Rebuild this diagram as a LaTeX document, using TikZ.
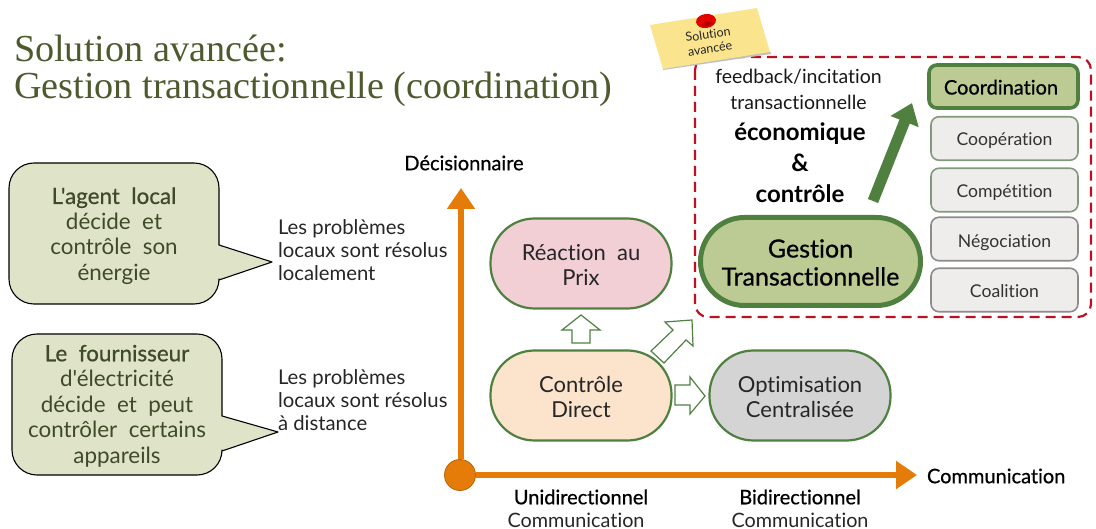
\documentclass[tikz,border=0pt]{standalone}
\usepackage{fontspec}
\setmainfont{Lato}[Ligatures={TeXOff,CommonOff}]
\newfontfamily\titlefont{Liberation Serif}
\newcommand{\fakeb}{\addfontfeature{FakeBold=0.7}}
\usetikzlibrary{arrows.meta,calc}
\definecolor{gborder}{HTML}{4F8040}
\definecolor{gfill}{HTML}{BCCB93}
\definecolor{cfill}{HTML}{DFE4C8}
\definecolor{ctext}{HTML}{3F4A28}
\definecolor{titlec}{HTML}{4E5A2E}
\definecolor{axis}{HTML}{E57C0A}
\definecolor{redd}{HTML}{C00F20}
\definecolor{lgrey}{HTML}{EEEDEB}
\definecolor{pinkf}{HTML}{F2CED5}
\definecolor{peach}{HTML}{FBE3CC}
\definecolor{note}{HTML}{FBE48E}
\tikzset{
 x=1pt,y=-1pt,
 every node/.style={inner sep=0pt,outer sep=0pt,align=center},
 pill/.style={draw=gborder,line width=2.2pt,rounded corners=44pt,minimum width=181pt,minimum height=90pt},
 pilltext/.style={font=\fontsize{22}{25}\selectfont,text=black!85},
 listbox/.style={rounded corners=8pt,line width=1.6pt,fill=lgrey,minimum width=147pt,minimum height=43.5pt,font=\fontsize{17.6}{20}\selectfont,text=black!80,text height=14pt,text depth=0pt},
 callout/.style={draw=black,line width=1.1pt,fill=cfill,line join=round},
 calltext/.style={text=ctext,font=\fontsize{22.4}{25.5}\selectfont},
 lab/.style={anchor=west,align=left,font=\fontsize{20.3}{23}\selectfont,text=black!85},
 axlab/.style={font=\fontsize{20}{23}\selectfont\fakeb,text=black},
 axsub/.style={font=\fontsize{19.8}{22}\selectfont,text=black!85},
 hollow/.style={draw=gborder,fill=white,line width=1.2pt,line join=miter},
 axisline/.style={draw=axis,line width=6pt},
}
\begin{document}
\begin{tikzpicture}
\useasboundingbox (0,0) rectangle (1096,529);
% title
\node[anchor=west,align=left,text=titlec,font=\titlefont\fontsize{38.2}{36.5}\selectfont] (title) at (14,71) {Solution avancée:\\Gestion transactionnelle (coordination)};
% dashed box
\draw[redd,line width=2.2pt,dash pattern=on 10pt off 6pt,rounded corners=13pt] (695,57) rectangle (1091,317);
% sticky note
\fill[black!25] (663,70) -- (771,54) -- (770,51) -- (663,68) -- cycle;
\fill[note] (650,25) -- (757,8) -- (770,52) -- (663,69) -- cycle;
\node[rotate=8,font=\fontsize{12.5}{14.5}\selectfont,text=black!85] (notetext) at (709,41.5) {Solution\\avancée};
\fill[red!90!black,rotate around={8:(706,21)}] (706,21) ellipse (10pt and 7pt);
\fill[red!70!black,rotate around={8:(707,24)}] (707,24) ellipse (6pt and 2pt);
% callouts
\draw[callout] (34,163) -- (194,163) arc[start angle=-90,end angle=0,radius=25] -- (219,245) -- (272,262) -- (219,280) -- (219,279) arc[start angle=0,end angle=90,radius=25] -- (34,304) arc[start angle=90,end angle=180,radius=25] -- (9,188) arc[start angle=180,end angle=270,radius=25] -- cycle;
\node[calltext] (c1) at (114,236) {{\fakeb L'agent\ \ local}\\décide\ \ et\\contrôle\ \ son\\énergie};
\draw[callout] (37,334) -- (197,334) arc[start angle=-90,end angle=0,radius=25] -- (222,416) -- (278,432) -- (222,451) -- (222,450) arc[start angle=0,end angle=90,radius=25] -- (37,475) arc[start angle=90,end angle=180,radius=25] -- (12,359) arc[start angle=180,end angle=270,radius=25] -- cycle;
\node[calltext] (c2) at (117,406) {{\fakeb Le\ \ fournisseur}\\d'électricité\\décide\ \ et\ \ peut\\contrôler\ \ certains\\appareils};
\node[lab] (l1) at (278,250) {Les problèmes\\locaux sont résolus\\localement};
\node[lab] (l2) at (278,400) {Les problèmes\\locaux sont résolus\\à distance};
% axes
\coordinate (ytip) at (461,188);
\coordinate (xtip) at (917,475);
\node[circle,draw=axis!80!black,fill=axis,line width=.8pt,minimum size=31pt] (orig) at (460,475) {};
\draw[axisline,-{Triangle[length=21pt,width=27pt]}] (orig.north -| ytip) -- (ytip);
\draw[axisline,-{Triangle[length=21pt,width=27pt]}] (orig.east) -- (xtip);
\node[axlab] (dec) at (464,163) {Décisionnaire};
\node[axlab,anchor=west] (com) at (927,476) {Communication};
\node[axlab] (uni) at (581,497) {Unidirectionnel};
\node[axsub,anchor=base] (c3) at (576,527) {Communication};
\node[axlab] (bi) at (800,497) {Bidirectionnel};
\node[axsub,anchor=base] (c4) at (800,527) {Communication};
% pills
\node[pill,fill=pinkf] (rea) at (581,263.5) {};
\node[pilltext] (reat) at (581,264.5) {Réaction\ \ au\\Prix};
\node[pill,fill=peach] (ctl) at (581,395.5) {};
\node[pilltext] (ctlt) at (581,397) {Contrôle\\Direct};
\node[pill,fill=black!17] (opt) at (800,395.5) {};
\node[pilltext] (optt) at (800,397) {Optimisation\\Centralisée};
\node[pill,fill=gfill,line width=5pt,minimum width=220pt,minimum height=88pt] (ges) at (810.5,261.5) {};
\node[font=\fontsize{25}{28}\selectfont\fakeb,text=black] (gest) at (810.5,262.5) {Gestion\\Transactionnelle};
% list
\node[listbox,draw=gborder,fill=gfill,line width=3.6pt,minimum width=149pt,minimum height=43pt,font=\fontsize{20}{22}\selectfont\fakeb,text=black,text height=16pt] (coo) at (1003.5,86.5) {\kern-5pt Coordination};
\node[listbox,draw=gborder!60!gray!80] (coop) at (1004.5,138.5) {Coopération};
\node[listbox,draw=gborder!60!gray!80,text height=16pt] (comp) at (1004.5,190) {Compétition};
\node[listbox,draw=black!45,text height=18pt] (neg) at (1004.5,239) {Négociation};
\node[listbox,draw=black!45,text height=15pt] (coal) at (1004.5,290) {Coalition};
% text in dash box
\node[font=\fontsize{19.5}{26}\selectfont,text=black!90] (fb) at (798.5,89) {feedback/incitation\\transactionnelle};
\node[font=\fontsize{24}{31}\selectfont\bfseries,text=black] (eco) at (800,163) {économique\\\&\\contrôle};
% big arrow
\coordinate (ba) at (873,201);
\coordinate (bb) at (912,103);
\draw[gborder,line width=11pt,-{Triangle[length=20pt,width=29pt]}] (ba) -- (bb);
% hollow arrows
\draw[hollow] (581,315) -- (600,330) -- (590,330) -- (590,343) -- (572,343) -- (572,330) -- (562,330) -- cycle;
\draw[hollow] (705,396) -- (690,414) -- (690,405) -- (675,405) -- (675,385) -- (690,385) -- (690,377) -- cycle;
\draw[hollow] (692,320) -- (693,346) -- (686,340) -- (664,363) -- (651,351) -- (673,330) -- (665,322) -- cycle;
\end{tikzpicture}
\end{document}
